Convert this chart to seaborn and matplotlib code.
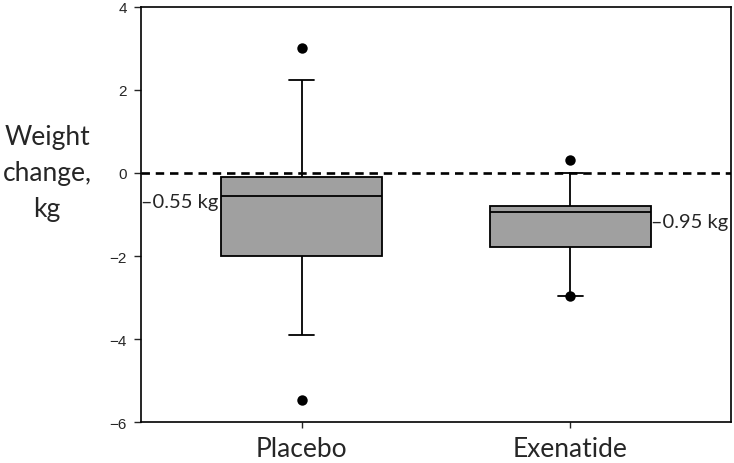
import matplotlib
matplotlib.use("Agg")
import matplotlib.pyplot as plt
import seaborn as sns

# Box summaries: whisker low, Q1, median, Q3, whisker high
categories = ["Placebo", "Exenatide"]
placebo_summary = [-3.9, -2.0, -0.55, -0.1, 2.25]
exenatide_summary = [-2.95, -1.78, -0.93, -0.8, 0.0]

outlier_groups = ["Placebo", "Placebo", "Exenatide", "Exenatide"]
outlier_values = [3.0, -5.47, 0.31, -2.97]

median_labels = ["\u20130.55 kg", "\u20130.95 kg"]
y_ticks = [-6, -4, -2, 0, 2, 4]

sns.set_style("ticks")
plt.rcParams["font.family"] = ["Liberation Sans", "DejaVu Sans"]

groups = [categories[0]] * len(placebo_summary) + [categories[1]] * len(exenatide_summary)
values = placebo_summary + exenatide_summary

fig = plt.figure(figsize=(7.34, 4.64), dpi=100)
ax = fig.add_axes([0.192, 0.088, 0.804, 0.895])

# whis=(0, 100) makes the whiskers run to the min/max of each summary
sns.boxplot(x=groups, y=values, order=categories, whis=(0, 100), width=0.6,
            color="#a0a0a0", saturation=1, linecolor="black", linewidth=1.3,
            showfliers=False, capwidths=0.093, ax=ax)
sns.stripplot(x=outlier_groups, y=outlier_values, order=categories, jitter=False,
              color="black", size=7.5, ax=ax, zorder=5)

ax.axhline(0, color="black", linewidth=1.9, linestyle=(0, (3.2, 2.2)), zorder=4)

ax.text(-0.31, -0.68, median_labels[0], ha="right", va="center",
        fontsize=14.5, family=["Lato", "DejaVu Sans"])
ax.text(1.3, -1.16, median_labels[1], ha="left", va="center",
        fontsize=14.5, family=["Lato", "DejaVu Sans"])

ax.set_xlim(-0.6, 1.6)
ax.set_ylim(-6, 4)
ax.set_yticks(y_ticks)
ax.tick_params(axis="y", labelsize=11, length=5, width=1, pad=5, direction="out")
ax.tick_params(axis="x", length=4, width=1, pad=6, direction="out")
for lab in ax.get_xticklabels():
    lab.set_fontfamily(["Lato", "DejaVu Sans"])
    lab.set_fontsize(19)

ax.set_xlabel("")
ax.set_ylabel("Weight\nchange,\nkg", rotation=0, ha="center", va="center",
              fontsize=19, family=["Lato", "DejaVu Sans"], linespacing=1.55)
ax.yaxis.set_label_coords(-0.159, 0.6)

for side in ["left", "right", "top", "bottom"]:
    ax.spines[side].set_linewidth(1.2)
    ax.spines[side].set_color("black")

plt.savefig("out.png", dpi=100)
plt.close()
